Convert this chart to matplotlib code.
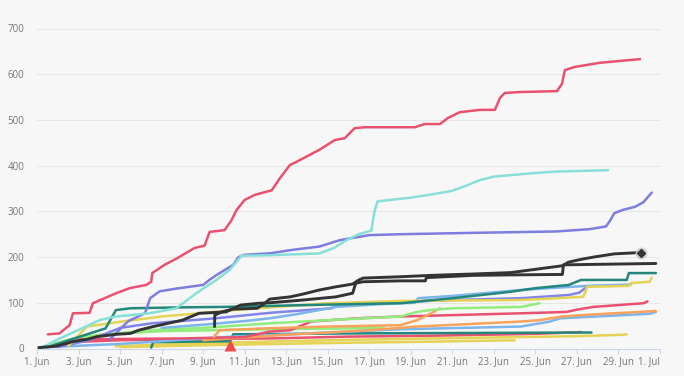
import matplotlib
matplotlib.use('Agg')
import matplotlib.pyplot as plt

plt.rcParams['font.family'] = ['Open Sans', 'DejaVu Sans']

# ---- data: day of June (31 = 1 Jul) and cumulative values ----
red_top_d = [1.52, 2.08, 2.57, 2.73, 3.53, 3.69, 4.82, 5.46, 6.26, 6.50, 6.55, 7.14, 7.77, 8.59, 9.07, 9.31,
             10.04, 10.37, 10.61, 11.0, 11.48, 12.30, 12.69, 13.17, 13.65, 14.61, 15.34, 15.82, 16.30, 16.78,
             19.19, 19.67, 20.40, 20.78, 21.36, 22.33, 23.05, 23.29, 23.53, 24.25, 26.04, 26.28, 26.42, 26.90,
             28.11, 30.04]
red_top_v = [31, 33, 51, 77, 78, 99, 121, 132, 139, 146, 165, 183, 198, 220, 225, 255,
             259, 281, 303, 325, 336, 346, 372, 401, 412, 435, 456, 460, 482, 484,
             484, 491, 491, 504, 517, 522, 522, 548, 559, 561, 563, 579, 609, 616,
             625, 633]

cyan_d = [1.3, 2.0, 3.5, 4.0, 4.8, 6.4, 7.7, 8.03, 8.67, 9.64, 10.28, 10.68, 10.85, 12.2, 14.6, 15.3,
          15.9, 16.5, 17.1, 17.25, 17.4, 18.0, 19.0, 20.0, 21.0, 21.6, 22.3, 23.0, 24.0, 25.0, 26.0, 28.5]
cyan_v = [3, 20, 51, 62, 70, 77, 88, 99, 121, 150, 172, 194, 203, 204, 208, 220,
          237, 250, 258, 300, 322, 325, 330, 337, 345, 355, 368, 376, 380, 384, 387, 390]

purple_d = [4.5, 5.4, 6.2, 6.45, 6.9, 7.7, 8.35, 9.0, 9.3, 9.65, 10.45, 10.7, 11.0, 12.2, 13.33, 14.6, 15.58,
            17.0, 18.5, 22.0, 26.0, 27.6, 28.4, 28.6, 28.8, 29.2, 29.8, 30.2, 30.6]
purple_v = [20, 60, 77, 110, 125, 131, 135, 139, 150, 161, 183, 200, 205, 208, 216, 223, 237,
            248, 250, 253, 256, 261, 267, 280, 296, 303, 310, 320, 341]

black_a_d = [9.55, 9.56, 9.9, 10.4, 11.6, 12.0, 12.2, 13.2, 13.8, 14.6, 15.4, 16.2, 16.5, 16.7, 18.5, 20.0,
             22.0, 23.8, 26.3, 26.6, 27.2, 27.8, 28.8, 30.1]
black_a_v = [48, 73, 80, 86, 88, 100, 108, 113, 119, 128, 135, 141, 150, 154, 157, 160,
             163, 166, 181, 189, 195, 200, 207, 210]

black_b_d = [1.1, 1.9, 2.4, 2.7, 3.4, 3.9, 4.8, 5.5, 5.9, 6.6, 8.0, 8.8, 10.1, 10.8, 11.7, 12.2, 13.8, 15.4,
             16.2, 16.35, 16.7, 18.5, 19.7, 19.75, 22.0, 23.8, 26.3, 26.35, 30.8]
black_b_v = [2, 5, 11, 15, 20, 26, 31, 33, 40, 48, 62, 77, 80, 95, 99, 100, 106, 113,
             121, 143, 146, 148, 148, 155, 160, 161, 162, 183, 186]

teal_d = [1.5, 3.0, 4.3, 4.5, 4.8, 5.5, 8.0, 10.0, 12.0, 15.0, 18.5, 21.0, 23.8, 25.0, 26.6, 27.2, 29.4, 29.5, 30.8]
teal_v = [3, 25, 44, 60, 84, 88, 90, 91, 93, 96, 99, 110, 124, 132, 139, 150, 150, 165, 165]

yellow_d = [2.5, 3.4, 5.1, 7.0, 9.0, 10.5, 12.2, 15.0, 18.5, 21.0, 24.3, 27.3, 27.5, 29.5, 29.6, 30.5, 30.6]
yellow_v = [5, 48, 59, 70, 78, 84, 90, 99, 104, 105, 106, 113, 135, 137, 143, 146, 155]

lblue_d = [7.0, 9.0, 11.0, 12.2, 13.5, 15.4, 17.5, 18.5, 19.2, 19.35, 21.0, 24.3, 26.0, 27.5, 29.6]
lblue_v = [45, 52, 60, 66, 75, 91, 97, 99, 100, 110, 115, 128, 133, 137, 140]

purple2_d = [2.0, 3.5, 5.0, 6.5, 9.6, 12.2, 15.2, 15.4, 18.5, 21.0, 24.3, 26.6, 27.1, 27.4]
purple2_v = [3, 18, 45, 55, 66, 78, 88, 95, 102, 106, 110, 117, 122, 132]

green_d = [1.2, 3.0, 6.4, 9.0, 12.2, 15.0, 18.5, 19.3, 19.9, 21.0, 24.3, 25.2]
green_v = [3, 25, 40, 45, 55, 62, 70, 80, 84, 88, 91, 99]

orange_d = [9.5, 9.8, 12.0, 15.0, 18.5, 19.3, 19.9, 20.4]
orange_v = [25, 40, 44, 48, 51, 62, 75, 88]

orange2_d = [9.0, 13.0, 17.0, 19.3, 24.3, 25.2, 26.3, 28.0, 30.8]
orange2_v = [18, 30, 40, 48, 59, 62, 70, 75, 82]

red2_d = [2.5, 3.0, 8.0, 11.0, 12.2, 13.2, 14.2, 16.4, 18.5, 24.3, 26.5, 27.0, 27.8, 29.0, 30.2, 30.4]
red2_v = [10, 20, 22, 25, 37, 40, 59, 66, 70, 77, 80, 85, 91, 95, 99, 103]

lblue2_d = [1.0, 5.0, 10.0, 15.0, 18.5, 24.3, 25.7, 26.2, 30.5, 30.8]
lblue2_v = [2, 10, 25, 35, 42, 48, 59, 66, 76, 80]

green2_d = [1.5, 4.0, 7.0, 12.2, 17.7]
green2_v = [3, 30, 38, 42, 45]

teal2_d = [6.5, 6.6, 10.3, 10.45, 16.0, 22.0, 27.7]
teal2_v = [2, 14, 16, 31, 33, 34, 35]

yellow2_d = [4.8, 8.0, 12.0, 16.0, 20.0, 24.3, 27.0, 29.2, 29.4]
yellow2_v = [5, 10, 15, 19, 22, 25, 27, 30, 31]

red3_d = [3.2, 5.0, 8.0, 12.2, 16.0, 20.0, 25.0, 27.2]
red3_v = [15, 18, 20, 22, 26, 28, 32, 36]

yellow3_d = [5.0, 10.0, 15.0, 20.0, 24.0]
yellow3_v = [3, 8, 12, 15, 18]

x_ticks = [1, 3, 5, 7, 9, 11, 13, 15, 17, 19, 21, 23, 25, 27, 29, 31]
x_labels = ['1. Jun', '3. Jun', '5. Jun', '7. Jun', '9. Jun', '11. Jun', '13. Jun', '15. Jun',
            '17. Jun', '19. Jun', '21. Jun', '23. Jun', '25. Jun', '27. Jun', '29. Jun', '1. Jul']
y_ticks = [0, 100, 200, 300, 400, 500, 600, 700]

marker_day = 30.1
marker_val = 210
flag_day = 10.28

# ---- figure ----
W, H = 684, 376
fig = plt.figure(figsize=(W / 100, H / 100), dpi=100)
bg = '#f7f7f7'
fig.patch.set_facecolor(bg)
ax = fig.add_axes([37 / W, (H - 348.5) / H, (660 - 37) / W, (348.5 - 28.5) / H])
ax.set_facecolor(bg)

series = [
    (yellow3_d, yellow3_v, '#e4d354', 1.8),
    (red3_d, red3_v, '#e8516f', 1.8),
    (yellow2_d, yellow2_v, '#e4d354', 1.8),
    (teal2_d, teal2_v, '#23877b', 1.8),
    (green2_d, green2_v, '#90ed7d', 1.8),
    (lblue2_d, lblue2_v, '#7cb5ec', 1.8),
    (orange2_d, orange2_v, '#f7a35c', 1.8),
    (red2_d, red2_v, '#e8516f', 1.8),
    (orange_d, orange_v, '#f7a35c', 1.8),
    (green_d, green_v, '#90ed7d', 1.8),
    (purple2_d, purple2_v, '#8085e9', 1.8),
    (lblue_d, lblue_v, '#7cb5ec', 1.8),
    (yellow_d, yellow_v, '#e4d354', 1.8),
    (teal_d, teal_v, '#23877b', 1.8),
    (purple_d, purple_v, '#7c7ddf', 1.8),
    (cyan_d, cyan_v, '#86e0d8', 1.8),
    (red_top_d, red_top_v, '#e8516f', 1.8),
    (black_b_d, black_b_v, '#333333', 2.1),
    (black_a_d, black_a_v, '#333333', 2.1),
]
for d, v, c, lw in series:
    ax.plot(d, v, color=c, lw=lw, solid_joinstyle='round', solid_capstyle='round', zorder=3)

# hover marker
ax.plot([marker_day], [marker_val], 'o', ms=8.5, color='#cccccc', alpha=0.9, zorder=5, mec='none')
ax.plot([marker_day], [marker_val], 'D', ms=4, color='#333333', zorder=6)

# flag triangle
ax.plot([flag_day], [7], '^', ms=8, color='#ef4b4b', mec='none', zorder=7, clip_on=False)

ax.set_xlim(1, 31)
ax.set_ylim(0, 700)
ax.set_yticks(y_ticks)
ax.set_yticklabels([str(t) for t in y_ticks])
ax.set_xticks(x_ticks)
ax.set_xticklabels(x_labels)
labels = ax.get_xticklabels()
labels[-1].set_horizontalalignment('right')

ax.grid(axis='y', color='#e6e6e6', lw=0.8, zorder=0)
ax.set_axisbelow(True)
for s in ['top', 'right', 'left']:
    ax.spines[s].set_visible(False)
ax.spines['bottom'].set_color('#ccd6eb')
ax.spines['bottom'].set_linewidth(0.8)
ax.tick_params(axis='y', length=0, pad=9, labelsize=7, labelcolor='#777777')
ax.tick_params(axis='x', length=3.6, width=0.8, color='#ccd6eb', pad=2, labelsize=7, labelcolor='#777777')

fig.savefig('out.png', dpi=100, facecolor=bg)
